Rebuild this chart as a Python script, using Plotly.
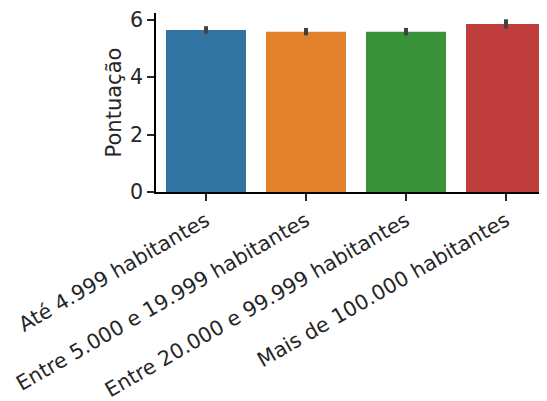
import plotly.graph_objects as go

categories = ["Até 4.999 habitantes", "Entre 5.000 e 19.999 habitantes",
              "Entre 20.000 e 99.999 habitantes", "Mais de 100.000 habitantes"]
values = [5.65, 5.59, 5.59, 5.86]
errors = [0.13, 0.13, 0.13, 0.16]
colors = ["#3274a1", "#e1812c", "#3a923a", "#c03d3e"]
y_ticks = [0, 2, 4, 6]

fig = go.Figure()
fig.add_trace(go.Bar(
    x=list(range(len(categories))), y=values,
    marker=dict(color=colors, line=dict(width=0)),
    width=0.8,
    error_y=dict(type="data", array=errors, color="#424242", thickness=4, width=0),
))
font = dict(family="DejaVu Sans", size=20.6, color="#262626")
fig.update_layout(
    width=539, height=393,
    margin=dict(l=148, r=0, t=5, b=209, autoexpand=False),
    plot_bgcolor="white", paper_bgcolor="white",
    showlegend=False, font=font,
)
fig.update_xaxes(
    range=[-0.5, 3.41], tickvals=list(range(len(categories))), ticktext=categories,
    tickangle=-30, showline=True, linecolor="black", linewidth=1.5,
    ticks="outside", ticklen=7, tickwidth=1.5, tickcolor="#262626",
    showgrid=False, zeroline=False, tickfont=font, automargin=False,
    ticklabeloverflow="allow",
)
fig.update_yaxes(
    range=[0, 6.24], tickvals=y_ticks, showline=True, linecolor="black", linewidth=1.5,
    ticks="outside", ticklen=7, tickwidth=1.5, tickcolor="#262626",
    showgrid=False, zeroline=False, tickfont=font, automargin=False,
    ticklabeloverflow="allow",
    title=dict(text="Pontuação", font=dict(family="DejaVu Sans", size=21, color="#262626"), standoff=3),
)
fig.write_html("out.html")
